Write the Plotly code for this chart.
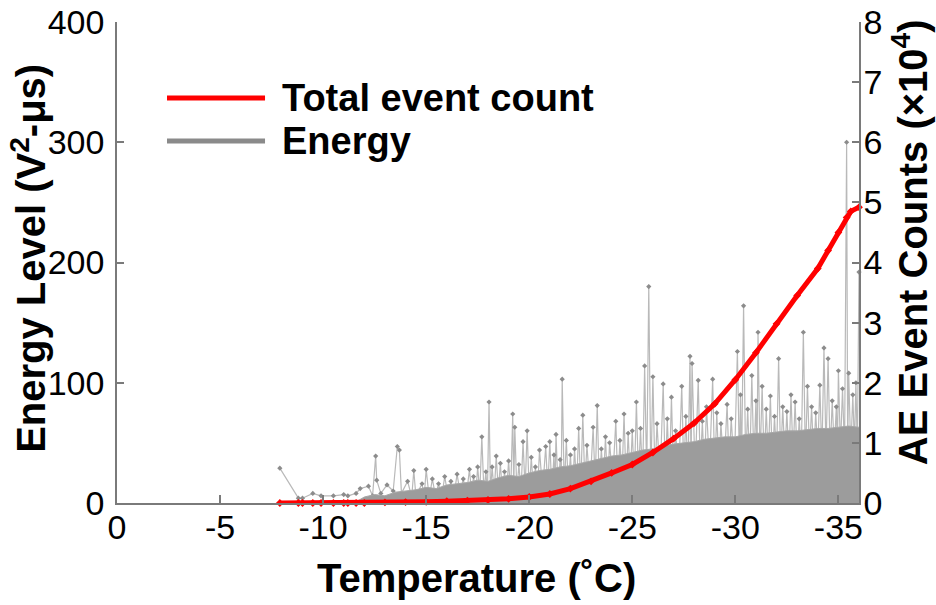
import plotly.graph_objects as go

# ---- data -------------------------------------------------------------
# cumulative AE event count (x10^4) against temperature
count_temp = [-7.9, -8.8, -9.0, -9.5, -9.9, -10.5, -11.0, -11.2, -11.6, -12.0,
              -13.0, -14.0, -15.0, -16.0, -17.0, -18.0, -19.0, -20.0, -21.0,
              -22.0, -23.0, -24.0, -25.0, -26.0, -27.0, -28.0, -29.0, -30.0,
              -31.0, -32.0, -33.0, -34.0, -34.5, -35.0, -35.4, -35.6, -36.0]
count_val = [0.0, 0.0, 0.0, 0.0, 0.0, 0.0, 0.0, 0.0, 0.0, 0.0,
             0.01, 0.015, 0.02, 0.03, 0.04, 0.05, 0.07, 0.1, 0.15,
             0.24, 0.36, 0.5, 0.64, 0.84, 1.07, 1.33, 1.65, 2.05,
             2.5, 2.98, 3.45, 3.9, 4.2, 4.5, 4.75, 4.85, 4.92]

# individual hit energies (V^2-us), in time order
energy_temp = [
    -7.9, -8.8, -9.0, -9.5, -9.9, -10.5, -11.0, -11.2, -11.6, -11.8, -12.2, -12.4,
    -12.55, -12.6, -12.8, -13.1, -13.4, -13.6, -13.7, -13.8, -14.1, -14.3, -14.4,
    -14.5, -14.8, -14.9, -15.0,
    -15.15, -15.3, -15.45, -15.6, -15.75, -15.9, -16.05, -16.2, -16.35, -16.5,
    -16.65, -16.8, -16.95, -17.1, -17.2, -17.3, -17.4, -17.5, -17.6, -17.7, -17.8,
    -17.9, -17.97, -18.05, -18.12, -18.2, -18.3, -18.4, -18.5, -18.6, -18.7, -18.8,
    -18.9, -19.0, -19.1, -19.2, -19.25, -19.3, -19.4, -19.5, -19.6, -19.7, -19.8,
    -19.9, -20.0, -20.1, -20.2, -20.3, -20.4, -20.5, -20.65, -20.8, -20.9, -21.0,
    -21.1, -21.2, -21.25, -21.3, -21.4, -21.5, -21.55, -21.6, -21.7, -21.8, -21.9,
    -22.0, -22.1, -22.2, -22.3, -22.4, -22.5, -22.6, -22.7, -22.8, -22.95, -23.1,
    -23.2, -23.3, -23.4, -23.5, -23.6, -23.7, -23.8, -23.9, -24.05, -24.2, -24.3,
    -24.4, -24.5, -24.6, -24.7, -24.8, -24.9, -25.0, -25.1, -25.2, -25.3, -25.4,
    -25.5, -25.6, -25.7, -25.8, -25.9, -26.0, -26.1, -26.2, -26.35, -26.5, -26.6,
    -26.7, -26.8, -26.9, -27.0, -27.1, -27.25, -27.4, -27.5, -27.6, -27.7, -27.8,
    -27.85, -27.9, -28.05, -28.2, -28.3, -28.4, -28.5, -28.6, -28.75, -28.9, -29.0,
    -29.1, -29.2, -29.3, -29.45, -29.6, -29.7, -29.8, -29.95, -30.1, -30.2, -30.25,
    -30.3, -30.4, -30.5, -30.6, -30.7, -30.8, -30.9, -31.0, -31.05, -31.1, -31.2,
    -31.3, -31.4, -31.5, -31.6, -31.7, -31.8, -31.9, -32.0, -32.1, -32.2, -32.3,
    -32.4, -32.5, -32.6, -32.7, -32.8, -32.9, -33.0, -33.1, -33.2, -33.3, -33.4,
    -33.5, -33.6, -33.7, -33.8, -33.9, -34.0, -34.1, -34.2, -34.3, -34.4, -34.5,
    -34.6, -34.7, -34.8, -34.9, -34.95, -35.0, -35.1, -35.2, -35.3, -35.4, -35.45,
    -35.5, -35.6, -35.7, -35.78, -35.85, -35.92, -36.0]
energy_val = [
    29, 4, 4, 8, 6, 6, 7, 6, 8, 12, 14, 6,
    39, 19, 8, 15, 10, 47, 44, 8, 18, 5, 27,
    6, 16, 4, 28,
    4, 20, 6, 16, 5, 22, 7, 18, 6, 24,
    8, 20, 6, 28, 9, 22, 7, 30, 8, 55, 10,
    26, 6, 84, 9, 30, 8, 39, 10, 33, 7, 26,
    9, 35, 8, 74, 12, 63, 10, 32, 9, 51, 11,
    60, 8, 38, 12, 30, 9, 44, 10, 47, 12, 51,
    9, 40, 13, 57, 10, 36, 12, 103, 11, 52, 14,
    40, 10, 45, 13, 62, 11, 73, 15, 48, 12, 63,
    16, 81, 13, 45, 17, 55, 14, 50, 18, 68, 15,
    52, 19, 74, 16, 58, 20, 60, 17, 84, 21, 62,
    18, 114, 22, 180, 19, 105, 23, 66, 20, 99, 24,
    70, 21, 88, 25, 60, 22, 97, 26, 72, 23, 122,
    27, 116, 24, 102, 28, 68, 25, 80, 29, 103, 26,
    75, 30, 66, 27, 82, 31, 70, 28, 126, 32, 90,
    29, 164, 33, 78, 30, 106, 34, 85, 31, 142, 35,
    97, 32, 78, 36, 89, 33, 72, 37, 120, 34, 80,
    38, 76, 35, 90, 39, 84, 36, 70, 40, 142, 37,
    97, 41, 80, 38, 75, 42, 98, 39, 129, 43, 120,
    40, 85, 44, 80, 41, 110, 45, 95, 42, 300, 46,
    108, 43, 90, 47, 100, 44, 192]

# upper edge of the densely packed low-energy hits
band_temp = [-11.5, -12.0, -12.5, -13.0, -13.5, -14.0, -14.5, -15.0, -15.5, -16.0,
             -16.5, -17.0, -17.5, -18.0, -18.5, -19.0, -19.5, -20.0, -20.5, -21.0,
             -21.5, -22.0, -22.5, -23.0, -23.5, -24.0, -24.5, -25.0, -25.5, -26.0,
             -26.5, -27.0, -27.5, -28.0, -28.5, -29.0, -29.5, -30.0, -30.5, -31.0,
             -31.5, -32.0, -32.5, -33.0, -33.5, -34.0, -34.5, -35.0, -35.5, -36.0]
band_val = [0, 5, 7, 6, 9, 10, 11, 13, 12, 15,
            16, 17, 19, 18, 21, 23, 22, 25, 27, 28,
            30, 31, 33, 35, 37, 39, 40, 42, 44, 45,
            47, 49, 50, 51, 53, 54, 55, 55, 57, 58,
            58, 59, 60, 60, 61, 62, 62, 63, 64, 63]

x_ticks = [0, -5, -10, -15, -20, -25, -30, -35]
x_tick_text = ["0", "-5", "-10", "-15", "-20", "-25", "-30", "-35"]
y_ticks = [0, 100, 200, 300, 400]
y2_ticks = [0, 1, 2, 3, 4, 5, 6, 7, 8]

# ---- styling ----------------------------------------------------------
FONT = "Liberation Sans, Arial, sans-serif"
AXIS_GREY = "#7a7a7a"
RED = "#ff0000"
BAND_GREY = "#9c9c9c"

fig = go.Figure()

fig.add_trace(go.Scatter(
    x=energy_temp, y=energy_val, mode="lines+markers",
    line=dict(color="#b9b9b9", width=1.2),
    marker=dict(symbol="diamond", size=4, color="#8c8c8c"),
    showlegend=False, cliponaxis=False, yaxis="y"))

fig.add_trace(go.Scatter(
    x=band_temp, y=band_val, mode="lines", fill="tozeroy",
    line=dict(color="#a8a8a8", width=1), fillcolor=BAND_GREY,
    showlegend=False, yaxis="y"))

fig.add_trace(go.Scatter(
    x=count_temp, y=count_val, mode="lines+markers",
    line=dict(color=RED, width=5),
    marker=dict(symbol="diamond", size=6, color=RED),
    showlegend=False, cliponaxis=False, yaxis="y2"))

tick_font = dict(family=FONT, size=34, color="black")
title_font = dict(family=FONT, size=40, color="black", weight="bold")

axis_common = dict(ticks="inside", tickwidth=1.5, tickcolor=AXIS_GREY,
                   showline=True, linecolor=AXIS_GREY, linewidth=1.5,
                   showgrid=False, zeroline=False, tickfont=tick_font,
                   automargin=False)

fig.update_layout(
    width=936, height=605,
    margin=dict(l=117, r=77, t=22, b=102),
    paper_bgcolor="white", plot_bgcolor="white",
    showlegend=False,
    xaxis=dict(range=[0, -36], tickvals=x_ticks, ticktext=x_tick_text,
               ticklen=8, ticklabelstandoff=-7, **axis_common),
    yaxis=dict(range=[0, 400], tickvals=y_ticks, ticklen=7,
               ticklabelstandoff=4, **axis_common),
    yaxis2=dict(range=[0, 8], tickvals=y2_ticks, overlaying="y", side="right",
                ticklen=7, ticklabelstandoff=-4, **axis_common),
)

# axis titles
fig.add_annotation(text="Temperature (˚C)", xref="paper", yref="paper",
                   x=0.485, y=-0.156, xanchor="center", yanchor="middle",
                   showarrow=False, font=title_font)
fig.add_annotation(text="Energy Level (V<sup>2</sup>-μs)", xref="paper",
                   yref="paper", x=-0.119, y=0.509, xanchor="center",
                   yanchor="middle", textangle=-90, showarrow=False,
                   font=title_font)
fig.add_annotation(text="AE Event Counts (×10<sup>4</sup>)", xref="paper",
                   yref="paper", x=1.069, y=0.5426, xanchor="center",
                   yanchor="middle", textangle=-90, showarrow=False,
                   font=title_font)

# legend drawn as line samples with labels
legend_items = [("Total event count", RED, 0.842), ("Energy", "#8a8a8a", 0.7526)]
for label, color, ypos in legend_items:
    fig.add_shape(type="line", xref="paper", yref="paper",
                  x0=0.0674, x1=0.1995, y0=ypos, y1=ypos,
                  line=dict(color=color, width=5))
    fig.add_annotation(text=label, xref="paper", yref="paper",
                       x=0.2197, y=ypos, xanchor="left", yanchor="middle",
                       showarrow=False,
                       font=dict(family=FONT, size=38, color="black",
                                 weight="bold"))

fig.write_html("out.html")
